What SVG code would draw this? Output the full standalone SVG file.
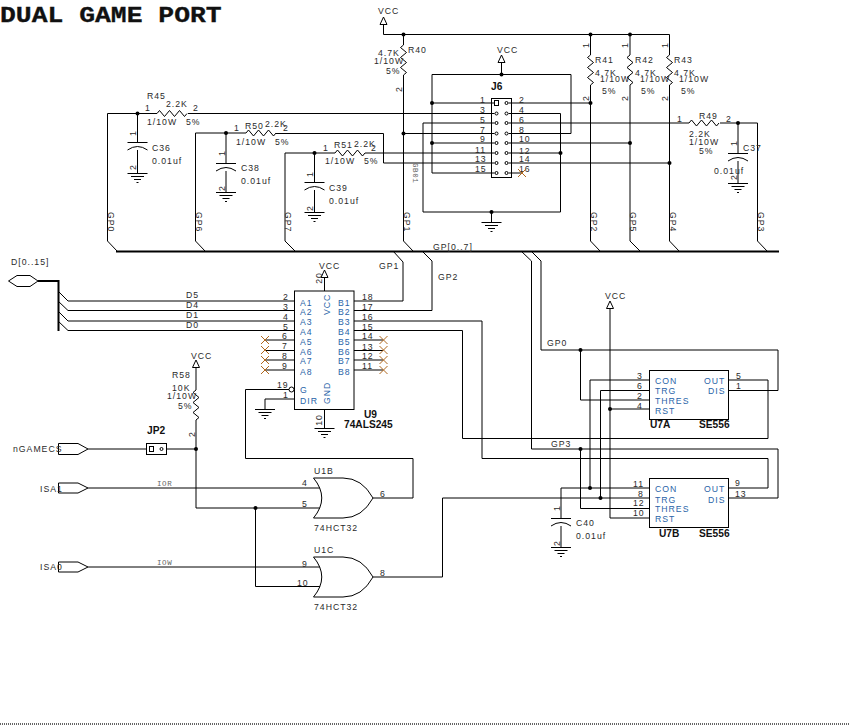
<svg xmlns="http://www.w3.org/2000/svg" width="850" height="726" viewBox="0 0 850 726">
<style>
text{font-family:"Liberation Sans",Arial,sans-serif;font-size:8.7px;letter-spacing:1px;fill:#2a2a2a}
.b{fill:#2a64a8}
.s{font-weight:bold;font-size:10.2px;letter-spacing:0;fill:#111}
.m{font-family:"Liberation Mono","Courier New",monospace;font-size:7.5px;letter-spacing:0.6px;fill:#666}
.title{font-family:"Liberation Mono","Courier New",monospace;font-weight:bold;font-size:22px;letter-spacing:0;fill:#111;stroke:#111;stroke-width:0.3px}
.mid{text-anchor:middle}
path,line,rect,circle,polygon{fill:none;stroke:#000;stroke-width:1}
.bus{stroke-width:2}
.dot{fill:#000;stroke:none}
.x{stroke:#b0681e}
.hollow{fill:#fff}
.rule{stroke:#333;stroke-width:1.5;stroke-dasharray:1 1}
</style>
<defs>
<path id="rh" d="M0 0l2.5-3 5 6 5-6 5 6 5-6 5 6 2.5-3"/>
<path id="rv" d="M0 0l-3 2.5 6 5-6 5 6 5-6 5 6 5-3 2.5"/>
<g id="gnd"><path d="M-10 0.5H10M-6.5 3.5H6.5M-3.5 6.5H3.5M-1 9.5H1"/></g>
<g id="cap"><path d="M-10 0.5H10M-10 8Q0 1 10 8"/></g>
<path id="x" class="x" d="M-4-4L4 4M-4 4L4-4"/>
<polygon id="vcc" class="hollow" points="0,0 3.5,7.5 -3.5,7.5"/>
<circle id="dot" class="dot" r="2"/>
<g id="orb"><path class="hollow" d="M-30.500-20H-1Q18-20 29 0Q18 20-1 20H-30.500Q-14 0-30.500-20Z"/></g>
</defs>

<text class="title" transform="translate(0 22) scale(1.2 1)">DUAL GAME PORT</text>

<g id="connectors">
<path d="M383.500 24V34.500H669.500V55M403.500 34.500V45M590.500 34.500V55M630 34.500V55"/>
<path d="M157 113.500H107.500V241L117 251"/>
<path d="M188 113.500H492M512 113.500H560.500V212H423V123H492M512 123H689"/>
<path d="M720 123H757.500V241L767 251"/>
<path d="M246 133H195.500V241L205 251"/>
<path d="M276 133.500H383.500V163H492M512 163H669"/>
<path d="M335 153H285V241L295 251"/>
<path d="M365 153H492M512 153H560.500"/>
<path d="M403.500 75V241L413 251"/>
<path d="M403.500 133.500H492M512 133.500H571V74.500H432V173H492M512 173H522"/>
<path d="M432 103H492M512 103H590.500"/>
<path d="M432 143H492M512 143H630"/>
<path d="M590.500 85V241L600 251"/>
<path d="M630 85V241L640 251"/>
<path d="M669.500 85V241L679 251"/>
<path d="M501.500 62V74.500"/>
<path d="M491.500 212V222"/>
<path d="M137.500 113.500V142M137.500 150V173M226 133V163M226 171V192M314.500 153V182M314.500 190V212M738 123V153M738 161V183M561 488V518M561 526V547"/>
<path class="bus" d="M116 251.500H779"/>
<path class="bus" d="M38 281H58.500V331"/>
<path d="M58 291L68 301H294M58 301L68 310.500H294M58 311L68 321H294M58 321L68 330.500H294"/>
<path d="M354 301H403V262L393 251"/>
<path d="M354 310.500H432V261L422 251"/>
<path d="M354 321H482V458.500H768V488H729"/>
<path d="M354 330.500H462.500V438.500H768V380H729"/>
<path d="M265 340H294M265 350.500H294M265 360H294M265 370H294"/>
<path d="M354 340H383M354 350.500H383M354 360H383M354 370H383"/>
<path d="M324.500 277.500V291M324.500 409V428M289 389.500H245.500V458.500H413V498H373"/>
<path d="M294 399H265V409"/>
<path d="M196 368V390M196 420V508H320"/>
<path d="M88 449H146.500M166.500 449H196"/>
<path d="M88 488H320M88 567H320"/>
<path d="M255.500 508V586.500H320"/>
<path d="M373 577H442.500V498H650"/>
<path d="M531.500 261L521 251M531.500 261V449H778V498H729"/>
<path d="M541 261L531 251M541 261V350H778V390.500H729"/>
<path d="M580.500 350V400H650"/>
<path d="M580.500 449V508.500H650"/>
<path d="M650 380H590V488M650 390.500H600.500V498"/>
<path d="M610 309V518H650M610 409H650"/>
<path d="M561 488H650"/>
<g>
<use href="#dot" x="403.500" y="34.500"/><use href="#dot" x="590.500" y="34.500"/><use href="#dot" x="630" y="34.500"/>
<use href="#dot" x="137.500" y="113.500"/><use href="#dot" x="226" y="133"/><use href="#dot" x="314.500" y="153"/>
<use href="#dot" x="403.500" y="133.500"/><use href="#dot" x="501.500" y="74.500"/><use href="#dot" x="432" y="103"/>
<use href="#dot" x="432" y="143"/><use href="#dot" x="590.500" y="103"/><use href="#dot" x="630" y="143"/>
<use href="#dot" x="560.500" y="153"/><use href="#dot" x="669.500" y="163"/><use href="#dot" x="491.500" y="212"/>
<use href="#dot" x="738" y="123"/><use href="#dot" x="196" y="449"/><use href="#dot" x="255.500" y="508"/>
<use href="#dot" x="580.500" y="350"/><use href="#dot" x="580.500" y="449"/><use href="#dot" x="610" y="409"/>
<use href="#dot" x="590" y="488"/><use href="#dot" x="600.500" y="498"/>
</g>
<text x="433" y="250">GP[0..7]</text>
<text x="11" y="265">D[0..15]</text>
<text x="186" y="298">D5</text><text x="186" y="308">D4</text><text x="186" y="318">D1</text><text x="186" y="328">D0</text>
<text x="379" y="269">GP1</text><text x="438" y="280">GP2</text><text x="547" y="346">GP0</text><text x="551" y="447">GP3</text>
<text class="m" x="157" y="486">IOR</text><text class="m" x="157" y="565">IOW</text>
<text class="m" transform="translate(413 163) rotate(90)">GB01</text>
<text transform="translate(108 212) rotate(90)">GP0</text>
<text transform="translate(196 212) rotate(90)">GP6</text>
<text transform="translate(285 212) rotate(90)">GP7</text>
<text transform="translate(404 212) rotate(90)">GP1</text>
<text transform="translate(591 212) rotate(90)">GP2</text>
<text transform="translate(630 212) rotate(90)">GP5</text>
<text transform="translate(670 212) rotate(90)">GP4</text>
<text transform="translate(758 212) rotate(90)">GP3</text>
</g>

<g id="D-port"><polygon points="8.500,281 17,275.500 30,275.500 38,281 30,286.500 17,286.500"/></g>

<g id="VCC-top"><use href="#vcc" x="383.500" y="17"/><text x="378" y="14">VCC</text></g>

<g id="R40"><use href="#rv" x="403.500" y="45"/><text x="408" y="53">R40</text><text x="378" y="56">4.7K</text><text x="374" y="64">1/10W</text><text x="386" y="74">5%</text><text class="mid" transform="translate(402 89) rotate(-90)">2</text></g>

<g id="R45"><use href="#rh" x="157" y="113.500"/><text x="147" y="99">R45</text><text x="166" y="107">2.2K</text><text x="145" y="111">1</text><text x="193" y="111">2</text><text x="147" y="125">1/10W</text><text x="186" y="125">5%</text></g>
<g id="C36"><use href="#cap" x="137.500" y="142"/><use href="#gnd" x="137.500" y="173"/><text x="152" y="151">C36</text><text x="152" y="164">0.01uf</text><text class="mid" transform="translate(136 133) rotate(-90)">1</text><text class="mid" transform="translate(136 167) rotate(-90)">2</text></g>

<g id="R50"><use href="#rh" x="246" y="133"/><text x="245" y="129">R50</text><text x="265" y="127">2.2K</text><text x="234" y="131">1</text><text x="283" y="131">2</text><text x="236" y="145">1/10W</text><text x="275" y="145">5%</text></g>
<g id="C38"><use href="#cap" x="226" y="163"/><use href="#gnd" x="226" y="192"/><text x="241" y="171">C38</text><text x="241" y="184">0.01uf</text><text class="mid" transform="translate(224.500 153) rotate(-90)">1</text><text class="mid" transform="translate(224.500 188) rotate(-90)">2</text></g>

<g id="R51"><use href="#rh" x="335" y="153"/><text x="334" y="148">R51</text><text x="354" y="147">2.2K</text><text x="323" y="151">1</text><text x="371" y="151">2</text><text x="325" y="164">1/10W</text><text x="364" y="164">5%</text></g>
<g id="C39"><use href="#cap" x="314.500" y="182"/><use href="#gnd" x="314.500" y="212"/><text x="329" y="191">C39</text><text x="329" y="204">0.01uf</text><text class="mid" transform="translate(313 174) rotate(-90)">1</text><text class="mid" transform="translate(313 208) rotate(-90)">2</text></g>

<g id="R41"><use href="#rv" x="590.500" y="55"/><text x="595" y="63">R41</text><text x="595" y="76">4.7K</text><text x="600" y="82">1/10W</text><text x="602" y="94">5%</text><text class="mid" transform="translate(589 45) rotate(-90)">1</text><text class="mid" transform="translate(589 98) rotate(-90)">2</text></g>
<g id="R42"><use href="#rv" x="630" y="55"/><text x="635" y="63">R42</text><text x="635" y="76">4.7K</text><text x="640" y="82">1/10W</text><text x="641" y="94">5%</text><text class="mid" transform="translate(628 45) rotate(-90)">1</text><text class="mid" transform="translate(628 98) rotate(-90)">2</text></g>
<g id="R43"><use href="#rv" x="669.500" y="55"/><text x="674" y="63">R43</text><text x="674" y="76">4.7K</text><text x="679" y="82">1/10W</text><text x="681" y="94">5%</text><text class="mid" transform="translate(668 45) rotate(-90)">1</text><text class="mid" transform="translate(668 98) rotate(-90)">2</text></g>

<g id="R49"><use href="#rh" x="689" y="123"/><text x="699" y="119">R49</text><text x="677" y="122">1</text><text x="726" y="122">2</text><text x="689" y="137">2.2K</text><text x="689" y="145">1/10W</text><text x="699" y="154">5%</text></g>
<g id="C37"><use href="#cap" x="738" y="153"/><use href="#gnd" x="738" y="183"/><text x="743" y="151">C37</text><text x="714" y="174">0.01uf</text><text class="mid" transform="translate(736.500 143) rotate(-90)">1</text><text class="mid" transform="translate(736.500 177) rotate(-90)">2</text></g>

<g id="J6">
<use href="#vcc" x="501.500" y="55"/><text x="497" y="53">VCC</text>
<use href="#gnd" x="491.500" y="222"/>
<rect class="hollow" x="491.500" y="98.500" width="20" height="79"/>
<path d="M491.500 103H494.500M491.500 113.500H494.500M491.500 123H494.500M491.500 133.500H494.500M491.500 143H494.500M491.500 153H494.500M491.500 163H494.500M491.500 173H494.500"/>
<path d="M508.500 103H511.500M508.500 113.500H511.500M508.500 123H511.500M508.500 133.500H511.500M508.500 143H511.500M508.500 153H511.500M508.500 163H511.500M508.500 173H511.500"/>
<rect x="494.500" y="100.500" width="4" height="5"/>
<circle cx="496.500" cy="113.500" r="1.500"/><circle cx="496.500" cy="123" r="1.500"/><circle cx="496.500" cy="133.500" r="1.500"/><circle cx="496.500" cy="143" r="1.500"/><circle cx="496.500" cy="153" r="1.500"/><circle cx="496.500" cy="163" r="1.500"/><circle cx="496.500" cy="173" r="1.500"/>
<circle cx="506.500" cy="103" r="1.500"/><circle cx="506.500" cy="113.500" r="1.500"/><circle cx="506.500" cy="123" r="1.500"/><circle cx="506.500" cy="133.500" r="1.500"/><circle cx="506.500" cy="143" r="1.500"/><circle cx="506.500" cy="153" r="1.500"/><circle cx="506.500" cy="163" r="1.500"/><circle cx="506.500" cy="173" r="1.500"/>
<text class="s" x="491" y="90">J6</text>
<text x="480" y="103">1</text><text x="480" y="113">3</text><text x="480" y="123">5</text><text x="480" y="133">7</text><text x="480" y="142">9</text><text x="475" y="153">11</text><text x="475" y="162">13</text><text x="475" y="172">15</text>
<text x="519" y="103">2</text><text x="519" y="113">4</text><text x="519" y="123">6</text><text x="519" y="133">8</text><text x="519" y="142">10</text><text x="519" y="154">12</text><text x="519" y="162">14</text><text x="519" y="172">16</text>
<use href="#x" x="522" y="173"/>
</g>

<g id="U9">
<use href="#vcc" x="324.500" y="270"/><text x="319" y="269">VCC</text>
<rect x="294.500" y="291" width="59.500" height="118.500"/>
<use href="#gnd" x="324.500" y="428"/><use href="#gnd" x="265" y="409"/>
<circle class="hollow" cx="291.500" cy="389.500" r="2.500"/>
<text class="b" x="300" y="306">A1</text><text class="b" x="300" y="315">A2</text><text class="b" x="300" y="325">A3</text><text class="b" x="300" y="335">A4</text><text class="b" x="300" y="345">A5</text><text class="b" x="300" y="355">A6</text><text class="b" x="300" y="364">A7</text><text class="b" x="300" y="375">A8</text>
<text class="b" x="338" y="306">B1</text><text class="b" x="338" y="315">B2</text><text class="b" x="338" y="325">B3</text><text class="b" x="338" y="335">B4</text><text class="b" x="338" y="345">B5</text><text class="b" x="338" y="355">B6</text><text class="b" x="338" y="364">B7</text><text class="b" x="338" y="375">B8</text>
<text class="b" x="300" y="393">G</text><text class="b" x="300" y="404">DIR</text>
<text class="b" transform="translate(330 315) rotate(-90)">VCC</text><text class="b" transform="translate(330 404) rotate(-90)">GND</text>
<text x="283" y="300">2</text><text x="283" y="310">3</text><text x="283" y="320">4</text><text x="283" y="330">5</text><text x="282" y="339">6</text><text x="282" y="349">7</text><text x="282" y="359">8</text><text x="282" y="369">9</text>
<text x="277" y="388">19</text><text x="283" y="398">1</text>
<text x="362" y="300">18</text><text x="362" y="310">17</text><text x="362" y="320">16</text><text x="362" y="330">15</text><text x="362" y="339">14</text><text x="362" y="350">13</text><text x="362" y="359">12</text><text x="362" y="369">11</text>
<text class="mid" transform="translate(322 278) rotate(-90)">20</text><text class="mid" transform="translate(322 420) rotate(-90)">10</text>
<text class="s" x="364" y="418">U9</text><text class="s" x="344" y="428">74ALS245</text>
<use href="#x" x="265" y="340"/><use href="#x" x="265" y="350"/><use href="#x" x="265" y="360"/><use href="#x" x="265" y="370"/>
<use href="#x" x="383.500" y="340"/><use href="#x" x="383.500" y="350"/><use href="#x" x="383.500" y="360"/><use href="#x" x="383.500" y="370"/>
</g>

<g id="R58"><use href="#vcc" x="196" y="360"/><text x="191" y="359">VCC</text><use href="#rv" x="196" y="390"/><text x="172" y="378">R58</text><text x="172" y="391">10K</text><text x="167" y="399">1/10W</text><text x="178" y="409">5%</text><text class="mid" transform="translate(194.500 434) rotate(-90)">2</text></g>

<g id="JP2"><rect x="146.500" y="443.500" width="20" height="11"/><rect x="149.500" y="446.500" width="4" height="5"/><circle cx="161.500" cy="449" r="1.500"/><text class="s" x="147" y="434">JP2</text></g>

<g id="nGAMECS"><polygon points="58.500,443.500 78,443.500 88,449 78,454.500 58.500,454.500"/><text x="13" y="452">nGAMECS</text></g>
<g id="ISA1"><polygon points="58.500,483 78,483 88,488 78,493 58.500,493"/><text x="40" y="492">ISA1</text></g>
<g id="ISA0"><polygon points="58.500,562 78,562 88,567 78,572 58.500,572"/><text x="40" y="570">ISA0</text></g>

<g id="U1B"><use href="#orb" x="344" y="498"/><text x="314" y="474">U1B</text><text x="314" y="531">74HCT32</text><text x="302" y="486">4</text><text x="302" y="507">5</text><text x="380" y="497">6</text></g>
<g id="U1C"><use href="#orb" x="344" y="577"/><text x="314" y="553">U1C</text><text x="314" y="610">74HCT32</text><text x="302" y="567">9</text><text x="297" y="586">10</text><text x="380" y="576">8</text></g>

<g id="U7A"><rect x="649.500" y="370.500" width="79" height="49"/>
<text class="b" x="655" y="384">CON</text><text class="b" x="655" y="394">TRG</text><text class="b" x="655" y="404">THRES</text><text class="b" x="655" y="414">RST</text><text class="b" x="704" y="384">OUT</text><text class="b" x="708" y="394">DIS</text>
<text x="637" y="379">3</text><text x="637" y="389">6</text><text x="637" y="399">2</text><text x="637" y="409">4</text><text x="736" y="379">5</text><text x="736" y="389">1</text>
<text class="s" x="650" y="428">U7A</text><text class="s" x="699" y="428">SE556</text></g>

<g id="VCC-timer"><use href="#vcc" x="610" y="301"/><text x="605" y="299">VCC</text></g>

<g id="U7B"><rect x="649.500" y="478.500" width="79" height="49"/>
<text class="b" x="655" y="492">CON</text><text class="b" x="655" y="503">TRG</text><text class="b" x="655" y="512">THRES</text><text class="b" x="655" y="522">RST</text><text class="b" x="704" y="492">OUT</text><text class="b" x="708" y="503">DIS</text>
<text x="633" y="487">11</text><text x="638" y="497">8</text><text x="633" y="506">12</text><text x="633" y="516">10</text><text x="735" y="486">9</text><text x="735" y="497">13</text>
<text class="s" x="659" y="537">U7B</text><text class="s" x="699" y="537">SE556</text></g>

<g id="C40"><use href="#cap" x="561" y="518"/><use href="#gnd" x="561" y="547"/><text x="576" y="526">C40</text><text x="576" y="539">0.01uf</text><text class="mid" transform="translate(559.500 508) rotate(-90)">1</text><text class="mid" transform="translate(559.500 543) rotate(-90)">2</text></g>

<line class="rule" x1="0" y1="724" x2="850" y2="724"/>
</svg>
